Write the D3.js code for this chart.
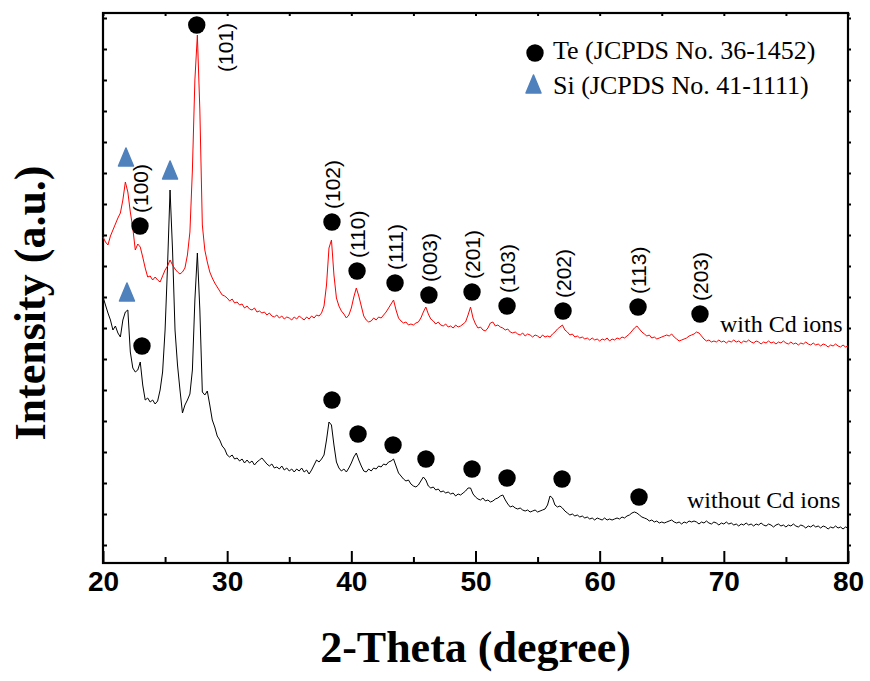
<!DOCTYPE html>
<html>
<head>
<meta charset="utf-8">
<script src="https://cdn.jsdelivr.net/npm/d3@7/dist/d3.min.js"></script>
<style>
  body { margin: 0; background: #fff; }
  svg { display: block; }
</style>
</head>
<body>
<svg id="chart" width="870" height="681"></svg>
<script>
// XRD scan: 2-theta from 20 to 80 degrees, 0.2 degree step
const scanStart = 20;
const scanStep = 0.2;

// Intensity (a.u.), sample prepared with Cd ions (offset upward)
const withCd = [
  326,321,318,327,333,339,345,350,363,381,
  371,351,335,313,319,316,306,295,286,287,
  283,286,283,281,287,293,297,303,298,294,
  291,289,291,295,308,331,393,483,528,453,
  338,313,301,291,285,280,276,272,268,267,
  265,262,264,260,261,258,259,255,257,254,
  253,255,251,252,250,251,248,250,247,246,
  248,245,247,244,246,245,243,246,244,247,
  245,243,246,244,247,245,248,247,250,257,
  278,315,323,288,265,257,252,249,245,248,
  255,266,275,267,257,247,243,241,242,245,
  243,246,245,248,251,255,259,263,253,245,
  242,240,241,238,239,238,240,241,245,251,
  256,249,244,242,239,241,238,237,239,236,
  237,235,238,236,237,239,241,248,256,245,
  239,235,236,233,232,235,240,241,237,238,
  236,235,233,234,231,230,231,229,228,230,
  227,229,228,226,228,227,225,228,226,227,
  226,229,231,234,236,238,233,231,228,229,
  226,227,225,226,224,225,223,225,223,224,
  222,224,223,225,222,224,223,225,224,226,
  225,227,229,232,235,237,234,231,229,227,
  228,225,226,224,225,226,227,228,227,229,
  226,224,222,223,224,225,227,228,229,231,
  230,227,224,222,223,221,222,221,223,221,
  222,220,222,221,223,221,222,220,222,221,
  223,221,220,222,221,219,221,220,222,220,
  221,219,221,220,222,220,219,221,219,220,
  218,220,219,221,219,218,220,218,219,217,
  219,218,216,218,217,219,217,216,218,216,
  217
];

// Intensity (a.u.), sample prepared without Cd ions
const withoutCd = [
  266,258,250,243,233,237,230,226,243,251,
  253,211,195,191,193,201,178,163,165,161,
  163,159,162,173,191,233,298,373,313,233,
  198,173,150,158,163,169,193,263,310,253,
  171,168,172,158,143,136,127,123,117,114,
  108,106,108,104,105,102,104,100,103,100,
  102,98,101,103,105,102,99,97,99,95,
  96,94,97,93,95,92,94,91,94,92,
  95,91,93,89,93,98,103,101,104,108,
  123,141,138,118,101,95,92,94,91,95,
  100,106,110,103,97,92,91,94,92,95,
  94,97,96,99,98,101,102,104,97,90,
  87,84,82,83,79,77,76,78,82,86,
  83,77,75,76,73,74,71,72,70,71,
  69,70,67,69,68,70,72,75,75,69,
  66,64,63,65,62,63,61,62,64,65,
  67,68,63,59,56,57,55,54,55,53,
  52,53,51,52,53,51,52,53,54,58,
  67,65,58,56,57,55,52,50,48,49,
  47,48,46,47,45,46,44,45,43,45,
  44,43,45,43,44,43,44,45,44,46,
  45,47,48,50,51,50,48,46,45,44,
  42,43,41,42,40,41,40,41,42,43,
  41,40,41,39,41,40,42,41,42,41,
  39,41,40,42,40,39,41,40,38,40,
  39,41,39,40,38,39,37,39,38,40,
  38,39,37,39,38,40,38,37,39,38,
  36,38,39,37,38,36,38,37,39,37,
  36,38,37,35,37,36,38,36,37,35,
  37,36,34,36,35,37,35,36,34,36,
  35
];

// Te reflections marked on the Cd-ion pattern: angle, marker height, Miller indices
const teAnglesCd = [22.98, 27.55, 38.44, 40.46, 43.52, 46.25, 49.72, 52.54, 57.05, 63.09, 68.08];
const teMarksCd  = [337, 538, 341, 292, 280, 268, 271, 257, 252, 256, 249];
const teHkl      = ["(100)", "(101)", "(102)", "(110)", "(111)", "(003)", "(201)", "(103)", "(202)", "(113)", "(203)"];

// Te reflections marked on the Cd-free pattern
const teAnglesPlain = [23.14, 38.44, 40.54, 43.36, 46.01, 49.72, 52.54, 56.97, 63.17];
const teMarksPlain  = [217, 163, 129, 118, 104, 94, 85, 84, 66];

// Si substrate reflections
const siAngles = [21.85, 25.40, 21.93];
const siMarks  = [406, 393, 271];

const xTicksMajor = [20, 30, 40, 50, 60, 70, 80];
const xTicksMinor = [25, 35, 45, 55, 65, 75];

const legendItems = ["Te (JCPDS No. 36-1452)", "Si (JCPDS No. 41-1111)"];
const sampleNames = ["with Cd ions", "without Cd ions"];

// ---- drawing ----
const svg = d3.select("#chart");
const plot = { left: 103, right: 848, top: 13, bottom: 563 };
const serif = "'Liberation Serif', 'Times New Roman', serif";
const sans = "'Liberation Sans', Arial, sans-serif";
const siBlue = "#4F81BD";

const x = d3.scaleLinear().domain([20, 80]).range([plot.left, plot.right]);
const y = d3.scaleLinear().domain([0, 550]).range([plot.bottom, plot.top]);
const yTicks = d3.range(18, 550, 31);

// axes
const gBottom = svg.append("g").attr("transform", `translate(0,${plot.bottom})`);
gBottom.call(d3.axisBottom(x).tickValues(xTicksMajor).tickSizeInner(-12).tickSizeOuter(0)
  .tickPadding(8).tickFormat(d3.format("d")));
gBottom.append("g").call(d3.axisBottom(x).tickValues(xTicksMinor).tickSizeInner(-6).tickSizeOuter(0).tickFormat(""));
gBottom.selectAll("text")
  .attr("font-family", sans).attr("font-weight", "bold").attr("font-size", 28).attr("fill", "#000");

svg.append("g").attr("transform", `translate(0,${plot.top})`)
  .call(d3.axisTop(x).tickValues(xTicksMajor.concat(xTicksMinor)).tickSizeInner(-3).tickSizeOuter(0).tickFormat(""));
svg.append("g").attr("transform", `translate(${plot.left},0)`)
  .call(d3.axisLeft(y).tickValues(yTicks).tickSizeInner(-4).tickSizeOuter(0).tickFormat(""));
svg.append("g").attr("transform", `translate(${plot.right},0)`)
  .call(d3.axisRight(y).tickValues(yTicks).tickSizeInner(3).tickSizeOuter(0).tickFormat(""));

svg.selectAll(".domain").remove();
svg.selectAll(".tick line").attr("stroke", "#000").attr("stroke-width", 2);

// frame
svg.append("rect")
  .attr("x", plot.left).attr("y", plot.top)
  .attr("width", plot.right - plot.left).attr("height", plot.bottom - plot.top)
  .attr("fill", "none").attr("stroke", "#000").attr("stroke-width", 2.2);

// traces
const line = d3.line()
  .x((d, i) => x(scanStart + i * scanStep))
  .y(d => y(d));

svg.append("path").datum(withoutCd)
  .attr("d", line).attr("fill", "none").attr("stroke", "#000").attr("stroke-width", 1);
svg.append("path").datum(withCd)
  .attr("d", line).attr("fill", "none").attr("stroke", "#ff0000").attr("stroke-width", 1);

// Te markers
const markerR = 8.7;
svg.append("g").selectAll("circle")
  .data(teAnglesCd.map((a, i) => [a, teMarksCd[i]]).concat(teAnglesPlain.map((a, i) => [a, teMarksPlain[i]])))
  .join("circle")
  .attr("cx", d => x(d[0])).attr("cy", d => y(d[1])).attr("r", markerR).attr("fill", "#000");

// Miller index labels, written bottom-to-top above each marker
svg.append("g").selectAll("text")
  .data(teHkl.map((h, i) => ({ h, a: teAnglesCd[i], v: teMarksCd[i] })))
  .join("text")
  .attr("transform", d => d.h === "(101)"
      ? `translate(${x(d.a) + 29},${y(d.v) + 47}) rotate(-90)`
      : `translate(${x(d.a)},${y(d.v) - 13}) rotate(-90)`)
  .attr("text-anchor", "start")
  .attr("dy", "0.36em")
  .attr("font-family", sans).attr("font-size", 21).attr("fill", "#000")
  .text(d => d.h);

// Si markers
const triPath = "M0,-9L7.5,9L-7.5,9Z";
svg.append("g").selectAll("path")
  .data(siAngles.map((a, i) => [a, siMarks[i]]))
  .join("path")
  .attr("d", triPath)
  .attr("transform", d => `translate(${x(d[0])},${y(d[1])})`)
  .attr("fill", siBlue).attr("stroke", siBlue).attr("stroke-width", 1.5).attr("stroke-linejoin", "round");

// legend
const legend = svg.append("g").attr("transform", "translate(535,53)");
legend.append("circle").attr("cx", 0).attr("cy", 0).attr("r", markerR).attr("fill", "#000");
legend.append("path").attr("d", triPath).attr("transform", "translate(-1.5,31)")
  .attr("fill", siBlue).attr("stroke", siBlue).attr("stroke-width", 1.5).attr("stroke-linejoin", "round");
legend.selectAll("text").data(legendItems).join("text")
  .attr("x", 18).attr("y", (d, i) => 6 + i * 35)
  .attr("font-family", serif).attr("font-size", 26).attr("fill", "#000")
  .text(d => d);

// sample names
svg.append("text").attr("x", 720).attr("y", 332)
  .attr("font-family", serif).attr("font-size", 24).attr("fill", "#000").text(sampleNames[0]);
svg.append("text").attr("x", 687).attr("y", 508)
  .attr("font-family", serif).attr("font-size", 24).attr("fill", "#000").text(sampleNames[1]);

// axis titles
svg.append("text")
  .attr("x", (plot.left + plot.right) / 2).attr("y", 662)
  .attr("text-anchor", "middle")
  .attr("font-family", serif).attr("font-weight", "bold").attr("font-size", 44).attr("fill", "#000")
  .text("2-Theta (degree)");
svg.append("text")
  .attr("transform", "translate(45,303) rotate(-90)")
  .attr("text-anchor", "middle")
  .attr("font-family", serif).attr("font-weight", "bold").attr("font-size", 44).attr("fill", "#000")
  .text("Intensity (a.u.)");
</script>
</body>
</html>
